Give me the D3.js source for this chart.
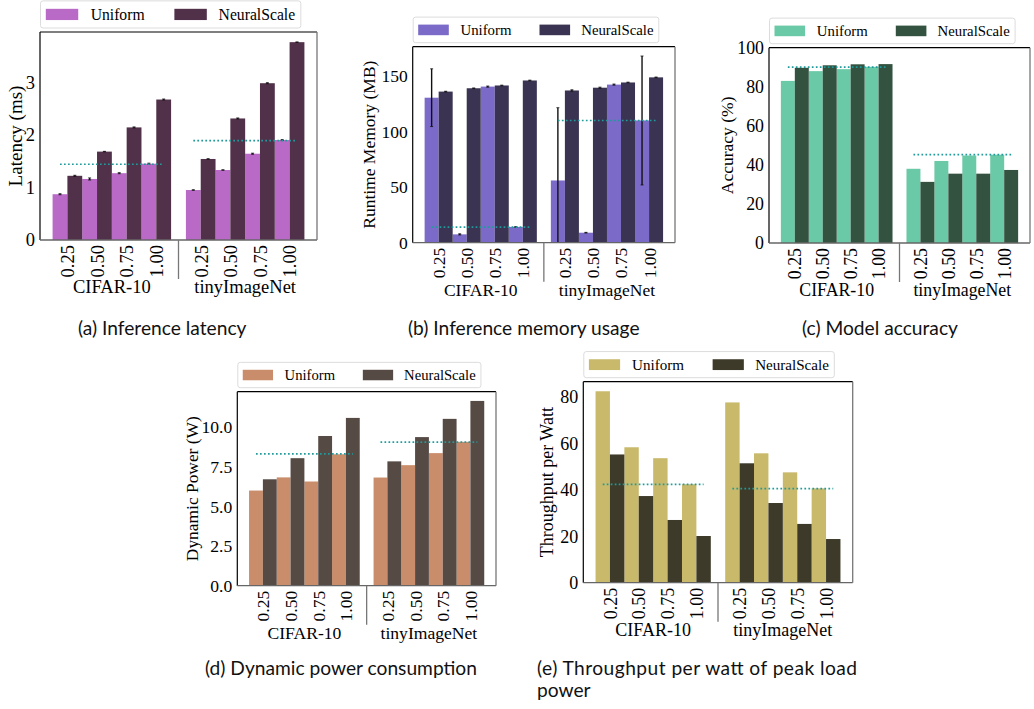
<!DOCTYPE html>
<html>
<head>
<meta charset="utf-8">
<script src="https://cdn.jsdelivr.net/npm/d3@7"></script>
<style>
  body { margin: 0; background: #fff; }
  svg { display: block; }
  .caption { font-family: Lato, "Noto Sans", sans-serif; fill: #111; }
</style>
</head>
<body>
<svg id="fig" width="1034" height="709"></svg>
<script>
// categories
const widthLabels = ["0.25", "0.50", "0.75", "1.00"];
const datasets = ["CIFAR-10", "tinyImageNet"];
const seriesNames = ["Uniform", "NeuralScale"];

// (a) latency in ms
const latencyUniform = [0.87, 1.16, 1.27, 1.45, 0.95, 1.33, 1.64, 1.90];
const latencyNeural = [1.22, 1.68, 2.14, 2.67, 1.54, 2.31, 2.98, 3.76];
const latencyUniformErr = [0.01, 0.02, 0.01, 0.01, 0.005, 0.005, 0.01, 0.01];
const latencyNeuralErr = [0.01, 0.005, 0.01, 0.01, 0.005, 0.01, 0.01, 0.005];
const latencyBaseline = [1.44, 1.89];

// (b) runtime memory in MB
const memoryUniform = [130.5, 7.5, 140.5, 14.2, 56, 9, 142.3, 110];
const memoryNeural = [136, 139, 141.5, 146, 137, 139.5, 144.2, 148.8];
const memoryUniformErr = [26, 0.5, 0.5, 0.3, 65.5, 0.3, 0.5, 58];
const memoryNeuralErr = [0.3, 0.3, 0.3, 0.3, 0.6, 0.5, 0.3, 0.3];
const memoryBaseline = [14, 110];

// (c) accuracy in %
const accuracyUniform = [83, 88, 89, 90.2, 38, 42, 44.8, 45.2];
const accuracyNeural = [89.7, 91, 91.5, 91.6, 31.3, 35.5, 35.5, 37.4];
const accuracyBaseline = [90.1, 45.2];

// (d) dynamic power in W
const powerUniform = [6.0, 6.83, 6.57, 8.29, 6.82, 7.6, 8.36, 9.07];
const powerNeural = [6.71, 8.04, 9.44, 10.58, 7.84, 9.37, 10.52, 11.65];
const powerBaseline = [8.31, 9.05];

// (e) throughput per watt
const throughputUniform = [82.4, 58.3, 53.6, 42.4, 77.6, 55.7, 47.5, 40.6];
const throughputNeural = [55.2, 37.3, 27.0, 20.1, 51.4, 34.3, 25.3, 18.8];
const throughputBaseline = [42.3, 40.5];

const zeros = widthLabels.concat(widthLabels).map(() => 0);

// bar pair centres: 4 per dataset, gap of 1.5 between the datasets
const positions = datasets.flatMap((ds, gi) => widthLabels.map((w, wi) => gi * 4.5 + wi));

const panels = [
  { uniform: latencyUniform, neural: latencyNeural, uErr: latencyUniformErr, nErr: latencyNeuralErr,
    baseline: latencyBaseline, yLabel: "Latency (ms)", yTicks: [0, 1, 2, 3], fmt: d3.format("d"),
    colors: ["#b96ac7", "#51304a"], box: { left: 40, right: 317, top: 32, bottom: 240 },
    font: 18.5, labelFont: 19, labelX: 15, legendScale: 1.06,
    caption: ["(a) Inference latency"], capX: 78, capY: 335 },
  { uniform: memoryUniform, neural: memoryNeural, uErr: memoryUniformErr, nErr: memoryNeuralErr,
    baseline: memoryBaseline, yLabel: "Runtime Memory (MB)", yTicks: [0, 50, 100, 150], fmt: d3.format("d"),
    colors: ["#7b6ac8", "#3a3352"], box: { left: 412.7, right: 675, top: 46.7, bottom: 242.7 },
    font: 17.5, labelFont: 17.5, labelX: 369, legendScale: 1.0,
    caption: ["(b) Inference memory usage"], capX: 408, capY: 335 },
  { uniform: accuracyUniform, neural: accuracyNeural, uErr: zeros, nErr: zeros,
    baseline: accuracyBaseline, yLabel: "Accuracy (%)", yTicks: [0, 20, 40, 60, 80, 100], fmt: d3.format("d"),
    colors: ["#6ac9a6", "#335340"], box: { left: 769, right: 1030, top: 47.7, bottom: 243 },
    yMax: 100, font: 17.8, labelFont: 17.5, labelX: 727, legendScale: 1.0,
    caption: ["(c) Model accuracy"], capX: 802, capY: 335 },
  { uniform: powerUniform, neural: powerNeural, uErr: zeros, nErr: zeros,
    baseline: powerBaseline, yLabel: "Dynamic Power (W)", yTicks: [0, 2.5, 5, 7.5, 10], fmt: d3.format(".1f"),
    colors: ["#c98d6b", "#564a45"], box: { left: 237.3, right: 496, top: 391.7, bottom: 585.7 },
    font: 17.6, labelFont: 17.4, labelX: 192, legendScale: 0.99,
    caption: ["(d) Dynamic power consumption"], capX: 205, capY: 675 },
  { uniform: throughputUniform, neural: throughputNeural, uErr: zeros, nErr: zeros,
    baseline: throughputBaseline, yLabel: "Throughput per Watt", yTicks: [0, 20, 40, 60, 80], fmt: d3.format("d"),
    colors: ["#c9b96b", "#3d3a29"], box: { left: 583.3, right: 852.7, top: 381.7, bottom: 582.7 },
    font: 18, labelFont: 18, labelX: 547, legendScale: 1.02,
    caption: ["(e) Throughput per watt of peak load", "power"], capX: 537, capY: 675, capWidth: 320 }
];

const svg = d3.select("#fig");
const serif = '"Liberation Serif", "Times New Roman", serif';

panels.forEach((p, pi) => {
  const b = p.box;
  const g = svg.append("g").attr("font-family", serif);

  const x = d3.scaleLinear().domain([-0.925, 8.425]).range([b.left, b.right]);
  const top = d3.max(p.uniform.map((v, i) => v + p.uErr[i]).concat(p.neural.map((v, i) => v + p.nErr[i])));
  const y = d3.scaleLinear().domain([0, p.yMax || top * 1.05]).range([b.bottom, b.top]);
  const bw = x(0.5) - x(0);

  const clipId = "clip" + pi;
  g.append("clipPath").attr("id", clipId).append("rect")
    .attr("x", b.left).attr("y", b.top).attr("width", b.right - b.left).attr("height", b.bottom - b.top);

  const rows = positions.map((pos, i) => ({ pos, u: p.uniform[i], n: p.neural[i], ue: p.uErr[i], ne: p.nErr[i] }));
  const plot = g.append("g").attr("clip-path", `url(#${clipId})`);

  // bars
  plot.selectAll("rect.u").data(rows).join("rect").attr("class", "u")
    .attr("x", d => x(d.pos - 0.5)).attr("width", bw)
    .attr("y", d => y(d.u)).attr("height", d => y(0) - y(d.u))
    .attr("fill", p.colors[0]);
  plot.selectAll("rect.n").data(rows).join("rect").attr("class", "n")
    .attr("x", d => x(d.pos)).attr("width", bw)
    .attr("y", d => y(d.n)).attr("height", d => y(0) - y(d.n))
    .attr("fill", p.colors[1]);

  // error bars
  const errs = rows.flatMap(d => [
    { cx: x(d.pos - 0.25), v: d.u, e: d.ue },
    { cx: x(d.pos + 0.25), v: d.n, e: d.ne }
  ]).filter(d => d.e > 0);
  plot.selectAll("line.err").data(errs).join("line").attr("class", "err")
    .attr("x1", d => d.cx).attr("x2", d => d.cx)
    .attr("y1", d => y(d.v - d.e)).attr("y2", d => y(d.v + d.e))
    .attr("stroke", "#111").attr("stroke-width", 1.4);
  plot.selectAll("path.cap").data(errs).join("path").attr("class", "cap")
    .attr("d", d => `M${d.cx - 1.5},${y(d.v + d.e)}h3M${d.cx - 1.5},${y(d.v - d.e)}h3`)
    .attr("stroke", "#111").attr("stroke-width", 0.8);

  // uniform 1.00 reference lines
  p.baseline.forEach((v, gi) => {
    g.append("line")
      .attr("x1", x(gi * 4.5 - 0.25)).attr("x2", x(gi * 4.5 + 3.25))
      .attr("y1", y(v)).attr("y2", y(v))
      .attr("stroke", "#1f9b9b").attr("stroke-width", 1.7).attr("stroke-dasharray", "1.7,2.3");
  });

  // spines
  g.append("line").attr("x1", b.left).attr("x2", b.right).attr("y1", b.top).attr("y2", b.top)
    .attr("stroke", "#000").attr("stroke-width", 1.2);
  g.append("line").attr("x1", b.left).attr("x2", b.left).attr("y1", b.top).attr("y2", b.bottom)
    .attr("stroke", "#000").attr("stroke-width", 1.2);
  g.append("line").attr("x1", b.left).attr("x2", b.right).attr("y1", b.bottom).attr("y2", b.bottom)
    .attr("stroke", "#666").attr("stroke-width", 1.3);
  g.append("line").attr("x1", b.right).attr("x2", b.right).attr("y1", b.top).attr("y2", b.bottom)
    .attr("stroke", "#777").attr("stroke-width", 1.3);

  // separator between datasets
  g.append("line").attr("x1", x(3.75)).attr("x2", x(3.75)).attr("y1", b.bottom).attr("y2", b.bottom + 39)
    .attr("stroke", "#777").attr("stroke-width", 1.3);

  // y axis
  const yAxis = g.append("g").attr("transform", `translate(${b.left},0)`)
    .call(d3.axisLeft(y).tickValues(p.yTicks).tickSize(0).tickPadding(5).tickFormat(p.fmt));
  yAxis.select(".domain").remove();
  yAxis.attr("font-family", serif).attr("font-size", p.font);
  yAxis.selectAll("text").attr("fill", "#000");

  // x axis with rotated width labels
  const xAxis = g.append("g").attr("transform", `translate(0,${b.bottom})`)
    .call(d3.axisBottom(x).tickValues(positions).tickSize(0).tickFormat((d, i) => widthLabels[i % 4]));
  xAxis.select(".domain").remove();
  xAxis.attr("font-family", serif).attr("font-size", p.font);
  xAxis.selectAll("text")
    .attr("fill", "#000").attr("y", 0).attr("x", -5).attr("dy", "0.34em")
    .attr("transform", "rotate(-90)").attr("text-anchor", "end");

  // dataset labels
  g.selectAll("text.ds").data(datasets).join("text").attr("class", "ds")
    .attr("x", (d, gi) => x(gi * 4.5 + 1.5)).attr("y", b.bottom + 53)
    .attr("text-anchor", "middle").attr("font-size", p.font).text(d => d);

  // y label
  g.append("text")
    .attr("transform", `translate(${p.labelX},${(b.top + b.bottom) / 2}) rotate(-90)`)
    .attr("text-anchor", "middle").attr("dominant-baseline", "central")
    .attr("font-size", p.labelFont).text(p.yLabel);

  // legend
  const s = p.legendScale;
  const lw = 245.6 * s, lh = 25.6 * s;
  const leg = g.append("g").attr("transform", `translate(${b.left + 0.5},${b.top - 4 - lh})`);
  leg.append("rect").attr("width", lw).attr("height", lh).attr("rx", 2.5)
    .attr("fill", "#fff").attr("stroke", "#dcdcdc").attr("stroke-width", 1);
  const items = [{ px: 5, tx: 47.3 }, { px: 126.3, tx: 168 }];
  seriesNames.forEach((name, i) => {
    leg.append("rect").attr("x", items[i].px * s).attr("y", lh / 2 - 5.3 * s)
      .attr("width", 30.6 * s).attr("height", 10.6 * s).attr("fill", p.colors[i]);
    leg.append("text").attr("x", items[i].tx * s).attr("y", lh / 2)
      .attr("dominant-baseline", "central").attr("font-size", 14.8 * s).text(name);
  });

  // caption
  p.caption.forEach((line, li) => {
    const t = svg.append("text").attr("class", "caption")
      .attr("x", p.capX).attr("y", p.capY + li * 22).attr("font-size", 19.2).text(line);
    if (p.capWidth && li < p.caption.length - 1) t.attr("textLength", p.capWidth).attr("lengthAdjust", "spacing");
  });
});
</script>
</body>
</html>
